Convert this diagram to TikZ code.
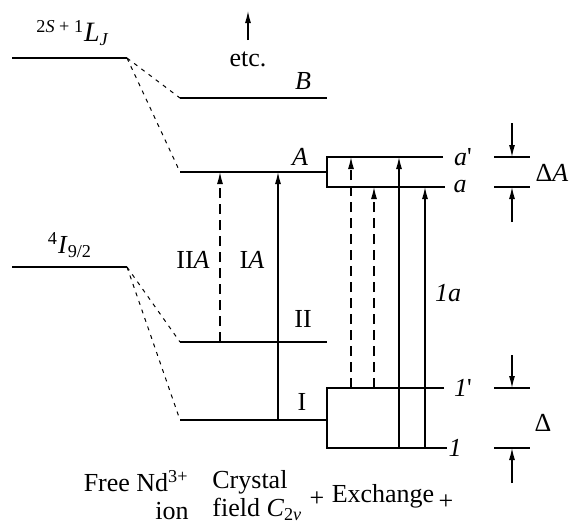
\documentclass[tikz,border=0pt]{standalone}
\usepackage{fontspec}
\setmainfont{Liberation Serif}
\usetikzlibrary{arrows.meta}
\begin{document}
\begin{tikzpicture}[x=0.5pt, y=-0.5pt, every node/.style={font=\fontsize{13}{14}\selectfont, inner sep=0pt},
  lvl/.style={line width=1.4pt},
  link/.style={line width=0.5pt, dash pattern=on 2pt off 2.5pt},
  tr/.style={line width=0.6pt, -{Latex[length=6pt, width=3pt]}},
  trd/.style={tr, dash pattern=on 5pt off 3pt}]
\useasboundingbox (0,0) rectangle (569,521);
\coordinate (fLl) at (12,58);
\coordinate (fLr) at (127,58);
\coordinate (fIl) at (12,267);
\coordinate (fIr) at (127,267);
\coordinate (Bl) at (180,98);
\coordinate (Br) at (327,98);
\coordinate (Al) at (180,172);
\coordinate (Ar) at (327,172);
\coordinate (IIl) at (180,342);
\coordinate (IIr) at (327,342);
\coordinate (Il) at (180,420);
\coordinate (Ir) at (327,420);
\coordinate (apl) at (327,157);
\coordinate (apr) at (443,157);
\coordinate (al) at (327,187);
\coordinate (ar) at (445,187);
\coordinate (onepl) at (327,388);
\coordinate (onepr) at (444,388);
\coordinate (onel) at (327,448);
\coordinate (oner) at (447,448);
\coordinate (xIIA) at (220,0);
\coordinate (xIA) at (278,0);
\coordinate (xd1) at (351,0);
\coordinate (xd2) at (374,0);
\coordinate (xs1) at (399,0);
\coordinate (xs2) at (425,0);
\coordinate (etcb) at (248,40);
\coordinate (etct) at (248,11);
\coordinate (dAtl) at (494,157);
\coordinate (dAtr) at (530,157);
\coordinate (dAbl) at (494,187);
\coordinate (dAbr) at (530,187);
\coordinate (dAtop) at (512,123);
\coordinate (dAbot) at (512,222);
\coordinate (dtl) at (494,388);
\coordinate (dtr) at (530,388);
\coordinate (dbl) at (494,448);
\coordinate (dbr) at (530,448);
\coordinate (dtop) at (512,355);
\coordinate (dbot) at (512,483);
\draw[lvl] (fLl) -- (fLr);
\draw[lvl] (fIl) -- (fIr);
\draw[lvl] (Bl) -- (Br);
\draw[lvl] (Al) -- (Ar);
\draw[lvl] (IIl) -- (IIr);
\draw[lvl] (Il) -- (Ir);
\draw[lvl] (apr) -- (apl) -- (al) -- (ar);
\draw[lvl] (onepr) -- (onepl) -- (onel) -- (oner);
\draw[link] (fLr) -- (Bl);
\draw[link] (fLr) -- (Al);
\draw[link] (fIr) -- (IIl);
\draw[link] (fIr) -- (Il);
\draw[tr] (etcb) -- (etct);
\draw[trd] (IIl -| xIIA) -- (Al -| xIIA);
\draw[tr] (Il -| xIA) -- (Al -| xIA);
\draw[trd] (onepl -| xd1) -- (apl -| xd1);
\draw[trd] (onepl -| xd2) -- (al -| xd2);
\draw[tr] (onel -| xs1) -- (apl -| xs1);
\draw[tr] (onel -| xs2) -- (al -| xs2);
\draw[lvl] (dAtl) -- (dAtr);
\draw[lvl] (dAbl) -- (dAbr);
\draw[lvl] (dtl) -- (dtr);
\draw[lvl] (dbl) -- (dbr);
\draw[tr] (dAtop) -- (dAtl -| dAtop);
\draw[tr] (dAbot) -- (dAbl -| dAbot);
\draw[tr] (dtop) -- (dtl -| dtop);
\draw[tr] (dbot) -- (dbl -| dbot);
\node (tfL) at (73,33) {\textsuperscript{2\textit{S} + 1}{\fontsize{14}{14}\selectfont\textit{L}}\textsubscript{\textit{J}}};
\node (tfI) at (70,245) {\textsuperscript{4}\textit{I}\textsubscript{9/2}};
\node (tetc) at (248,59) {etc.};
\node (tB) at (303,81) {\textit{B}};
\node (tA) at (300,157) {\textit{A}};
\node (tII) at (303,319) {II};
\node (tI) at (302,402) {I};
\node (tIIA) at (193,260) {II\textit{A}};
\node (tIA) at (252,260) {I\textit{A}};
\node (tap) at (463,157) {\textit{a}\textquotesingle};
\node (ta) at (460,187) {\textit{a}};
\node (tonep) at (463,388) {\textit{1}\textquotesingle};
\node (tone) at (455,448) {\textit{1}};
\node (tonea) at (448,293) {\textit{1a}};
\node (tdA) at (552,173) {Δ\textit{A}};
\node (td) at (543,423) {Δ};
\node[align=right, anchor=north east] (tfree) at (189,470) {Free Nd\textsuperscript{3+}\\ion};
\node[align=left, anchor=north west] (tcf) at (212,470) {Crystal\\field \textit{C}\textsubscript{2\textit{v}}};
\node (tp1) at (317,499) {+};
\node (tex) at (383,496) {Exchange};
\node (tp2) at (446,502) {+};
\end{tikzpicture}
\end{document}
